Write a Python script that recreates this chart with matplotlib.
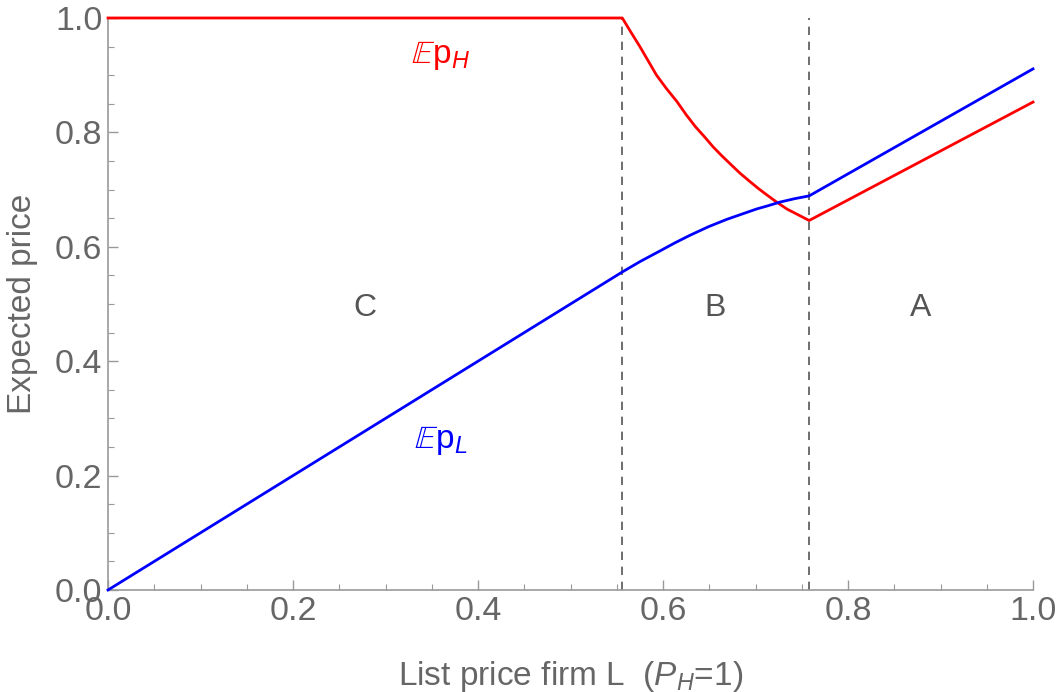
import numpy as np
import matplotlib.pyplot as plt
from matplotlib.ticker import MultipleLocator

plt.rcParams['font.family'] = ['Liberation Sans', 'DejaVu Sans']
plt.rcParams['mathtext.fontset'] = 'custom'
plt.rcParams['mathtext.rm'] = 'Liberation Sans'
plt.rcParams['mathtext.it'] = 'Liberation Sans:italic'

# Expected price of firm H (red) and firm L (blue) against list price of L
x_h = [0.0, 0.556, 0.565, 0.575, 0.584, 0.593, 0.604, 0.615, 0.625, 0.635, 0.645,
       0.654, 0.663, 0.672, 0.683, 0.694, 0.703, 0.712, 0.723, 0.734, 0.746, 0.758, 1.0]
ep_h = [1.0, 1.0, 0.976, 0.950, 0.925, 0.900, 0.876, 0.854, 0.831, 0.810, 0.792,
        0.775, 0.760, 0.746, 0.729, 0.714, 0.702, 0.691, 0.678, 0.666, 0.656, 0.646, 0.853]

x_l = [0.0, 0.556, 0.575, 0.597, 0.613, 0.629, 0.649, 0.669, 0.685, 0.701, 0.714,
       0.726, 0.742, 0.758, 1.0]
ep_l = [0.0, 0.556, 0.574, 0.593, 0.607, 0.620, 0.635, 0.648, 0.657, 0.666, 0.672,
        0.678, 0.684, 0.689, 0.911]

# region boundaries
bounds = [0.556, 0.758]
regions = ["C", "B", "A"]
region_x = [0.278, 0.656, 0.878]

grey = "#666666"

fig = plt.figure(figsize=(10.62, 6.92), dpi=100)
ax = fig.add_axes([0.1017, 0.1474, 0.8710, 0.8266])

for b in bounds:
    ax.plot([b, b], [0, 1], color="#555555", lw=1.2, ls=(0, (5, 4)), zorder=1)

ax.plot(x_h, ep_h, color="#ff0000", lw=2, zorder=3, clip_on=False)
ax.plot(x_l, ep_l, color="#0000ff", lw=2, zorder=3, clip_on=False)

for r, rx in zip(regions, region_x):
    ax.text(rx, 0.493, r, color="#555555", fontsize=23, ha="center", va="center")

ax.text(0.36, 0.935, r"$\mathbb{E}\mathrm{p}_{\mathit{H}}$", color="#ff0000", fontsize=24,
        ha="center", va="center")
ax.text(0.36, 0.262, r"$\mathbb{E}\mathrm{p}_{\mathit{L}}$", color="#0000ff", fontsize=24,
        ha="center", va="center")

ax.set_xlim(0, 1)
ax.set_ylim(0, 1)
ax.xaxis.set_major_locator(MultipleLocator(0.2))
ax.xaxis.set_minor_locator(MultipleLocator(0.05))
ax.yaxis.set_major_locator(MultipleLocator(0.2))
ax.yaxis.set_minor_locator(MultipleLocator(0.05))
ax.xaxis.set_major_formatter(lambda v, p: f"{v:.1f}")
ax.yaxis.set_major_formatter(lambda v, p: f"{v:.1f}")

for s in ["top", "right"]:
    ax.spines[s].set_visible(False)
for s in ["left", "bottom"]:
    ax.spines[s].set_color("#999999")
    ax.spines[s].set_linewidth(1.2)

ax.tick_params(which="major", direction="in", length=7, width=1, color="#999999",
               labelsize=24.5, labelcolor=grey, pad=4)
ax.tick_params(which="minor", direction="in", length=4, width=0.8, color="#999999")

ax.set_xlabel(r"List price firm L  ($\mathit{P}_{\mathit{H}}$=1)", fontsize=24, color=grey)
ax.set_ylabel("Expected price", fontsize=24, color=grey)
ax.xaxis.set_label_coords(0.5, -0.12)
ax.yaxis.set_label_coords(-0.076, 0.5)

fig.savefig("out.png", dpi=100)
